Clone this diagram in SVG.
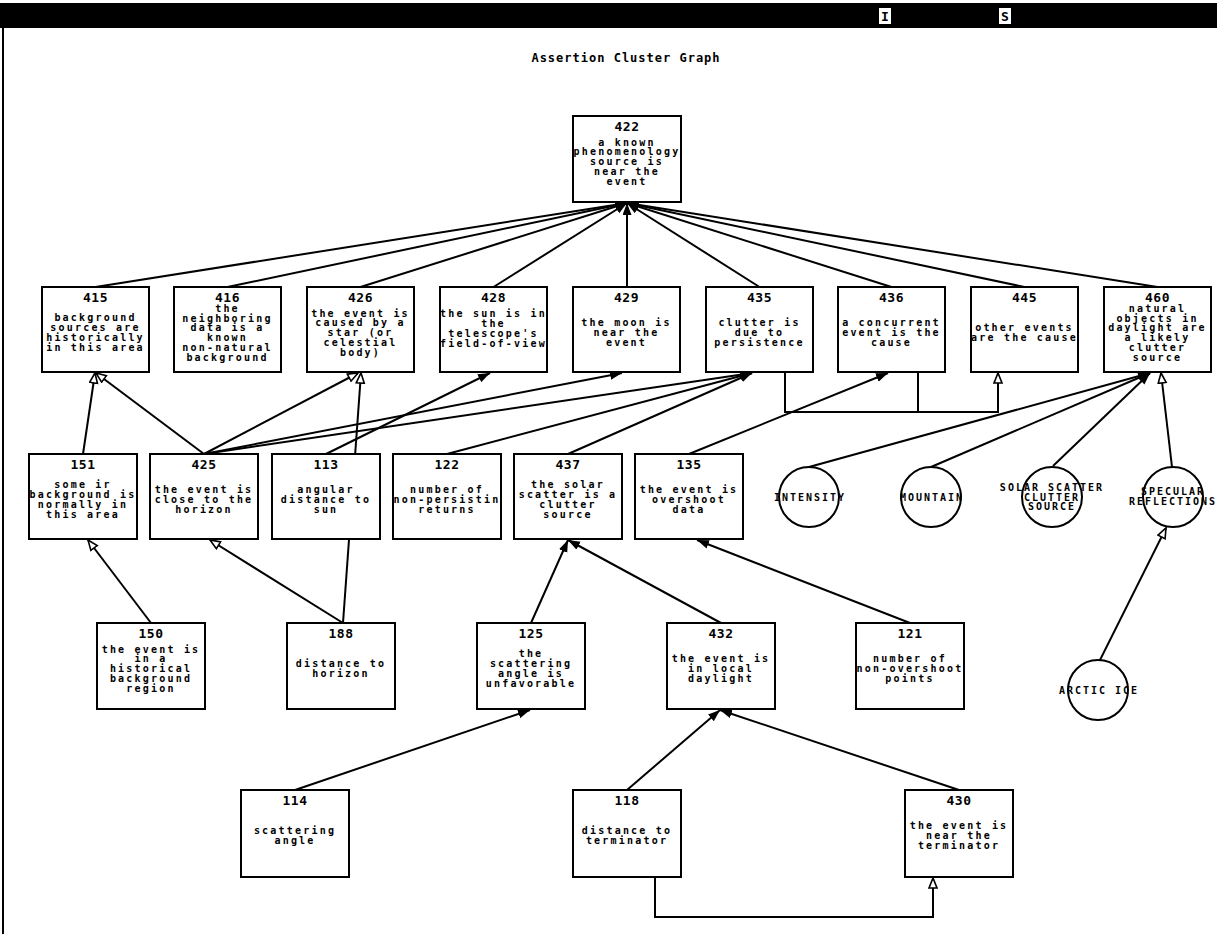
<svg xmlns="http://www.w3.org/2000/svg" width="1217" height="934" viewBox="0 0 1217 934">
<style>
.bx{fill:#fff;stroke:#000;stroke-width:2}
.ci{fill:#fff;stroke:#000;stroke-width:2}
.n{font-family:"DejaVu Sans Mono",monospace;font-weight:bold;font-size:13px;text-anchor:middle;letter-spacing:0.5px}
.t{font-family:"DejaVu Sans Mono",monospace;font-weight:bold;font-size:10px;text-anchor:middle;letter-spacing:2.2px}
.c{font-family:"DejaVu Sans Mono",monospace;font-weight:bold;font-size:10px;text-anchor:middle;letter-spacing:2px}
.ttl{font-family:"DejaVu Sans Mono",monospace;font-weight:bold;font-size:12px;text-anchor:middle;letter-spacing:1px}
.e{fill:none;stroke:#000;stroke-width:2}
.f{marker-end:url(#fa)}
.h{marker-end:url(#ha)}
</style>
<defs>
<marker id="fa" markerUnits="userSpaceOnUse" markerWidth="14" markerHeight="10" refX="12" refY="4.5" orient="auto"><path d="M0,0 L12,4.5 L0,9 z" fill="#000"/></marker>
<marker id="ha" markerUnits="userSpaceOnUse" markerWidth="14" markerHeight="12" refX="11" refY="5" orient="auto"><path d="M1,1 L11,5 L1,9 z" fill="#fff" stroke="#000" stroke-width="1.6"/></marker>
</defs>
<rect width="1217" height="934" fill="#fff"/>
<g id="chrome">
<rect x="0" y="3" width="1217" height="25" fill="#000"/>
<line x1="3" y1="28" x2="3" y2="934" stroke="#000" stroke-width="2"/>
<rect x="879" y="8" width="12" height="16" fill="#fff"/>
<text x="885" y="21" font-family="DejaVu Sans Mono,monospace" font-weight="bold" font-size="13" text-anchor="middle">I</text>
<rect x="999" y="8" width="12" height="16" fill="#fff"/>
<text x="1005" y="21" font-family="DejaVu Sans Mono,monospace" font-weight="bold" font-size="13" text-anchor="middle">S</text>
<text class="ttl" x="626" y="62">Assertion Cluster Graph</text>
</g>
<g id="connectors">
<line class="e f" x1="95.5" y1="287" x2="627" y2="203"/>
<line class="e f" x1="227.5" y1="287" x2="627" y2="203"/>
<line class="e f" x1="360.5" y1="287" x2="627" y2="203"/>
<line class="e f" x1="493.5" y1="287" x2="627" y2="203"/>
<line class="e f" x1="627" y1="287" x2="627" y2="203"/>
<line class="e f" x1="759.5" y1="287" x2="627" y2="203"/>
<line class="e f" x1="891.5" y1="287" x2="627" y2="203"/>
<line class="e f" x1="1024.5" y1="287" x2="627" y2="203"/>
<line class="e f" x1="1157.5" y1="287" x2="627" y2="203"/>
<line class="e h" x1="83" y1="454" x2="95" y2="373"/>
<line class="e h" x1="204" y1="454" x2="96" y2="373"/>
<line class="e h" x1="204" y1="454" x2="358" y2="373"/>
<line class="e h" x1="343" y1="623" x2="361" y2="373"/>
<line class="e f" x1="326" y1="454" x2="490" y2="373"/>
<line class="e f" x1="204" y1="454" x2="622" y2="373"/>
<line class="e f" x1="204" y1="454" x2="752" y2="373"/>
<line class="e f" x1="447" y1="454" x2="752" y2="373"/>
<line class="e f" x1="568" y1="454" x2="752" y2="373"/>
<line class="e f" x1="689" y1="454" x2="888" y2="373"/>
<path class="e" d="M918,372 V412"/>
<path class="e h" d="M785,372 V412 H998 V373"/>
<line class="e f" x1="809" y1="467" x2="1150" y2="373"/>
<line class="e f" x1="931" y1="467" x2="1150" y2="373"/>
<line class="e f" x1="1053" y1="466" x2="1150" y2="373"/>
<line class="e h" x1="1172" y1="467" x2="1161" y2="373"/>
<line class="e h" x1="1100" y1="660" x2="1166" y2="528"/>
<line class="e h" x1="151" y1="623" x2="88" y2="540"/>
<line class="e h" x1="343" y1="623" x2="210" y2="540"/>
<line class="e f" x1="531" y1="623" x2="568" y2="540"/>
<line class="e f" x1="721" y1="623" x2="568" y2="540"/>
<line class="e f" x1="910" y1="623" x2="697" y2="540"/>
<line class="e f" x1="295" y1="790" x2="530" y2="710"/>
<line class="e f" x1="627" y1="790" x2="720" y2="710"/>
<line class="e f" x1="959" y1="790" x2="720" y2="710"/>
<path class="e h" d="M655,877 V917 H933 V878"/>
</g>
<g id="n422"><rect class="bx" x="573" y="116" width="108" height="86"/><text class="n" x="627" y="131">422</text><text class="t" y="145.6"><tspan x="627">a known</tspan><tspan x="627" dy="9.8">phenomenology</tspan><tspan x="627" dy="9.8">source is</tspan><tspan x="627" dy="9.8">near the</tspan><tspan x="627" dy="9.8">event</tspan></text></g>
<g id="n415"><rect class="bx" x="42" y="287" width="107" height="85"/><text class="n" x="95.5" y="302">415</text><text class="t" y="321.45"><tspan x="95.5">background</tspan><tspan x="95.5" dy="9.8">sources are</tspan><tspan x="95.5" dy="9.8">historically</tspan><tspan x="95.5" dy="9.8">in this area</tspan></text></g>
<g id="n416"><rect class="bx" x="174" y="287" width="107" height="85"/><text class="n" x="227.5" y="302">416</text><text class="t" y="311.75"><tspan x="227.5">the</tspan><tspan x="227.5" dy="9.8">neighboring</tspan><tspan x="227.5" dy="9.8">data is a</tspan><tspan x="227.5" dy="9.8">known</tspan><tspan x="227.5" dy="9.8">non-natural</tspan><tspan x="227.5" dy="9.8">background</tspan></text></g>
<g id="n426"><rect class="bx" x="307" y="287" width="107" height="85"/><text class="n" x="360.5" y="302">426</text><text class="t" y="316.6"><tspan x="360.5">the event is</tspan><tspan x="360.5" dy="9.8">caused by a</tspan><tspan x="360.5" dy="9.8">star (or</tspan><tspan x="360.5" dy="9.8">celestial</tspan><tspan x="360.5" dy="9.8">body)</tspan></text></g>
<g id="n428"><rect class="bx" x="440" y="287" width="107" height="85"/><text class="n" x="493.5" y="302">428</text><text class="t" y="317.45"><tspan x="493.5">the sun is in</tspan><tspan x="493.5" dy="9.8">the</tspan><tspan x="493.5" dy="9.8">telescope's</tspan><tspan x="493.5" dy="9.8">field-of-view</tspan></text></g>
<g id="n429"><rect class="bx" x="573" y="287" width="107" height="85"/><text class="n" x="626.5" y="302">429</text><text class="t" y="326.3"><tspan x="626.5">the moon is</tspan><tspan x="626.5" dy="9.8">near the</tspan><tspan x="626.5" dy="9.8">event</tspan></text></g>
<g id="n435"><rect class="bx" x="706" y="287" width="107" height="85"/><text class="n" x="759.5" y="302">435</text><text class="t" y="326.3"><tspan x="759.5">clutter is</tspan><tspan x="759.5" dy="9.8">due to</tspan><tspan x="759.5" dy="9.8">persistence</tspan></text></g>
<g id="n436"><rect class="bx" x="838" y="287" width="107" height="85"/><text class="n" x="891.5" y="302">436</text><text class="t" y="326.3"><tspan x="891.5">a concurrent</tspan><tspan x="891.5" dy="9.8">event is the</tspan><tspan x="891.5" dy="9.8">cause</tspan></text></g>
<g id="n445"><rect class="bx" x="971" y="287" width="107" height="85"/><text class="n" x="1024.5" y="302">445</text><text class="t" y="331.15"><tspan x="1024.5">other events</tspan><tspan x="1024.5" dy="9.8">are the cause</tspan></text></g>
<g id="n460"><rect class="bx" x="1104" y="287" width="107" height="85"/><text class="n" x="1157.5" y="302">460</text><text class="t" y="311.75"><tspan x="1157.5">natural</tspan><tspan x="1157.5" dy="9.8">objects in</tspan><tspan x="1157.5" dy="9.8">daylight are</tspan><tspan x="1157.5" dy="9.8">a likely</tspan><tspan x="1157.5" dy="9.8">clutter</tspan><tspan x="1157.5" dy="9.8">source</tspan></text></g>
<g id="n151"><rect class="bx" x="29" y="454" width="108" height="85"/><text class="n" x="83" y="469">151</text><text class="t" y="488.45"><tspan x="83">some ir</tspan><tspan x="83" dy="9.8">background is</tspan><tspan x="83" dy="9.8">normally in</tspan><tspan x="83" dy="9.8">this area</tspan></text></g>
<g id="n425"><rect class="bx" x="150" y="454" width="108" height="85"/><text class="n" x="204" y="469">425</text><text class="t" y="493.3"><tspan x="204">the event is</tspan><tspan x="204" dy="9.8">close to the</tspan><tspan x="204" dy="9.8">horizon</tspan></text></g>
<g id="n113"><rect class="bx" x="272" y="454" width="108" height="85"/><text class="n" x="326" y="469">113</text><text class="t" y="493.3"><tspan x="326">angular</tspan><tspan x="326" dy="9.8">distance to</tspan><tspan x="326" dy="9.8">sun</tspan></text></g>
<g id="n122"><rect class="bx" x="393" y="454" width="108" height="85"/><text class="n" x="447" y="469">122</text><text class="t" y="493.3"><tspan x="447">number of</tspan><tspan x="447" dy="9.8">non-persistin</tspan><tspan x="447" dy="9.8">returns</tspan></text></g>
<g id="n437"><rect class="bx" x="514" y="454" width="108" height="85"/><text class="n" x="568" y="469">437</text><text class="t" y="488.45"><tspan x="568">the solar</tspan><tspan x="568" dy="9.8">scatter is a</tspan><tspan x="568" dy="9.8">clutter</tspan><tspan x="568" dy="9.8">source</tspan></text></g>
<g id="n135"><rect class="bx" x="635" y="454" width="108" height="85"/><text class="n" x="689" y="469">135</text><text class="t" y="493.3"><tspan x="689">the event is</tspan><tspan x="689" dy="9.8">overshoot</tspan><tspan x="689" dy="9.8">data</tspan></text></g>
<g id="intensity"><circle class="ci" cx="809" cy="497" r="30"/><text class="c" x="810" y="501">INTENSITY</text></g>
<g id="mountain"><circle class="ci" cx="931" cy="497" r="30"/><text class="c" x="932" y="501">MOUNTAIN</text></g>
<g id="solar"><circle class="ci" cx="1052" cy="497" r="30"/><text class="c" y="491"><tspan x="1052">SOLAR SCATTER</tspan><tspan x="1052" dy="9.6">CLUTTER</tspan><tspan x="1052" dy="9.6">SOURCE</tspan></text></g>
<g id="specular"><circle class="ci" cx="1173" cy="497" r="30"/><text class="c" y="495"><tspan x="1173">SPECULAR</tspan><tspan x="1173" dy="9.6">REFLECTIONS</tspan></text></g>
<g id="n150"><rect class="bx" x="97" y="623" width="108" height="86"/><text class="n" x="151" y="638">150</text><text class="t" y="652.6"><tspan x="151">the event is</tspan><tspan x="151" dy="9.8">in a</tspan><tspan x="151" dy="9.8">historical</tspan><tspan x="151" dy="9.8">background</tspan><tspan x="151" dy="9.8">region</tspan></text></g>
<g id="n188"><rect class="bx" x="287" y="623" width="108" height="86"/><text class="n" x="341" y="638">188</text><text class="t" y="667.15"><tspan x="341">distance to</tspan><tspan x="341" dy="9.8">horizon</tspan></text></g>
<g id="n125"><rect class="bx" x="477" y="623" width="108" height="86"/><text class="n" x="531" y="638">125</text><text class="t" y="657.45"><tspan x="531">the</tspan><tspan x="531" dy="9.8">scattering</tspan><tspan x="531" dy="9.8">angle is</tspan><tspan x="531" dy="9.8">unfavorable</tspan></text></g>
<g id="n432"><rect class="bx" x="667" y="623" width="108" height="86"/><text class="n" x="721" y="638">432</text><text class="t" y="662.3"><tspan x="721">the event is</tspan><tspan x="721" dy="9.8">in local</tspan><tspan x="721" dy="9.8">daylight</tspan></text></g>
<g id="n121"><rect class="bx" x="856" y="623" width="108" height="86"/><text class="n" x="910" y="638">121</text><text class="t" y="662.3"><tspan x="910">number of</tspan><tspan x="910" dy="9.8">non-overshoot</tspan><tspan x="910" dy="9.8">points</tspan></text></g>
<g id="arctic"><circle class="ci" cx="1098" cy="690" r="30"/><text class="c" x="1099" y="694">ARCTIC ICE</text></g>
<g id="n114"><rect class="bx" x="241" y="790" width="108" height="87"/><text class="n" x="295" y="805">114</text><text class="t" y="834.15"><tspan x="295">scattering</tspan><tspan x="295" dy="9.8">angle</tspan></text></g>
<g id="n118"><rect class="bx" x="573" y="790" width="108" height="87"/><text class="n" x="627" y="805">118</text><text class="t" y="834.15"><tspan x="627">distance to</tspan><tspan x="627" dy="9.8">terminator</tspan></text></g>
<g id="n430"><rect class="bx" x="905" y="790" width="108" height="87"/><text class="n" x="959" y="805">430</text><text class="t" y="829.3"><tspan x="959">the event is</tspan><tspan x="959" dy="9.8">near the</tspan><tspan x="959" dy="9.8">terminator</tspan></text></g>
</svg>
